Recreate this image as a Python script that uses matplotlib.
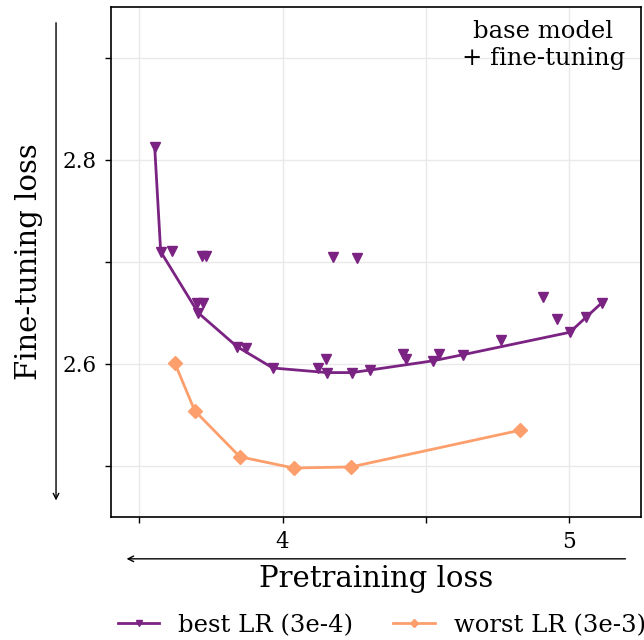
import numpy as np
import matplotlib
matplotlib.use("Agg")
import matplotlib.pyplot as plt
from matplotlib.ticker import FixedFormatter, FixedLocator

plt.rcParams["font.family"] = ["DejaVu Serif"]

# best LR (3e-4): frontier connected by the line
best_x = [3.554, 3.575, 3.706, 3.841, 3.966, 4.155, 4.242, 4.305, 4.524, 4.629, 5.002, 5.058, 5.114]
best_y = [2.813, 2.710, 2.650, 2.617, 2.596, 2.5915, 2.5915, 2.594, 2.603, 2.609, 2.631, 2.6456, 2.660]

# best LR (3e-4): other runs, markers only
other_x = [3.614, 3.718, 3.732, 3.701, 3.722, 3.872, 4.123, 4.151, 4.175, 4.259,
           4.420, 4.430, 4.545, 4.762, 4.908, 4.957]
other_y = [2.7105, 2.7056, 2.7056, 2.660, 2.660, 2.616, 2.5964, 2.605, 2.7046, 2.7036,
           2.610, 2.605, 2.610, 2.623, 2.666, 2.644]

# worst LR (3e-3)
worst_x = [3.624, 3.694, 3.851, 4.039, 4.238, 4.828]
worst_y = [2.601, 2.554, 2.509, 2.498, 2.499, 2.535]

purple = "#7b2382"
orange = "#fd9f6c"

fig = plt.figure(figsize=(6.44, 6.40), dpi=100)
ax = fig.add_axes([0.1716, 0.1922, 0.8237, 0.7973])

ax.plot(best_x, best_y, color=purple, lw=2, marker="v", ms=7, label="best LR (3e-4)", zorder=3)
ax.plot(other_x, other_y, color=purple, lw=0, marker="v", ms=7, zorder=3)
ax.plot(worst_x, worst_y, color=orange, lw=2, marker="D", ms=7, label="worst LR (3e-3)", zorder=3)

ax.set_xlim(3.4, 5.25)
ax.set_ylim(2.45, 2.95)

xt = [3.5, 4.0, 4.5, 5.0]
yt = [2.5, 2.6, 2.7, 2.8, 2.9]
ax.xaxis.set_major_locator(FixedLocator(xt))
ax.xaxis.set_major_formatter(FixedFormatter(["", "4", "", "5"]))
ax.yaxis.set_major_locator(FixedLocator(yt))
ax.yaxis.set_major_formatter(FixedFormatter(["", "2.6", "", "2.8", ""]))
ax.tick_params(labelsize=15.5, length=4, width=1, pad=6)
ax.grid(True, color="#e9e9e9", lw=1)
ax.set_axisbelow(True)
for s in ax.spines.values():
    s.set_linewidth(1.2)

ax.set_xlabel("Pretraining loss", fontsize=21)
ax.set_ylabel("Fine-tuning loss", fontsize=21)
ax.xaxis.set_label_coords(0.5, -0.094)
ax.yaxis.set_label_coords(-0.127, 0.5)

# direction arrows (lower is better)
ax.annotate("", xy=(-0.1027, 0.027), xytext=(-0.1027, 0.974), xycoords="axes fraction",
            arrowprops=dict(arrowstyle="->", lw=1, color="black"), annotation_clip=False)
ax.annotate("", xy=(0.025, -0.082), xytext=(0.976, -0.082), xycoords="axes fraction",
            arrowprops=dict(arrowstyle="->", lw=1, color="black"), annotation_clip=False)

ax.text(0.97, 0.974, "base model\n+ fine-tuning", transform=ax.transAxes, ha="right",
        va="top", multialignment="center", fontsize=17.5, linespacing=1.25)

fig.legend(loc="center left", bbox_to_anchor=(0.183, 0.023), ncol=2, frameon=False,
           fontsize=17.5, markerscale=0.6, handlelength=1.7, handletextpad=0.78,
           columnspacing=1.65, borderaxespad=0, borderpad=0)

fig.savefig("out.png", dpi=100)
